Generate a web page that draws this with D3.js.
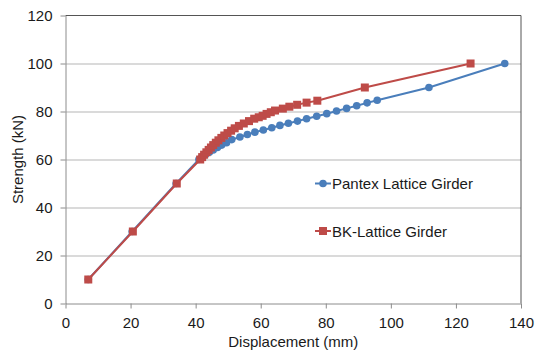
<!DOCTYPE html>
<html>
<head>
<meta charset="utf-8">
<script src="https://cdn.jsdelivr.net/npm/d3@7"></script>
<style>
  body { margin: 0; background: #fff; }
  text { font-family: "Liberation Sans", Arial, sans-serif; fill: #1a1a1a; }
</style>
</head>
<body>
<div id="chart"></div>
<script>
// Pantex Lattice Girder (displacement mm, strength kN)
const pantexX = [7, 20.5, 34, 41, 42, 43, 44.2, 45.4, 46.7, 48, 49.5, 51.1, 53.6, 55.9, 58.2, 60.8, 63.4, 65.9, 68.5, 71.3, 74.1, 77.2, 80.3, 83.3, 86.4, 89.5, 92.7, 95.8, 111.7, 135];
const pantexY = [10, 30, 50, 60, 61, 62, 63, 64, 65, 66, 67, 68.3, 69.4, 70.4, 71.4, 72.3, 73.2, 74.2, 75.1, 76, 77, 78, 79.1, 80.2, 81.3, 82.4, 83.6, 84.7, 90, 100];

// BK-Lattice Girder
const bkX = [7, 20.7, 34.2, 41.4, 42, 42.6, 43.3, 44, 44.7, 45.4, 46.2, 47, 47.9, 48.8, 49.8, 50.9, 52, 53.3, 54.8, 56.4, 58, 59.4, 60.6, 61.8, 63.1, 64.4, 66.8, 68.8, 71.2, 74.1, 77.4, 92, 124.5];
const bkY = [10, 30, 50, 60, 61, 62, 63, 64, 65, 66, 67, 68, 69, 70, 71, 72, 73, 74, 75, 76, 77, 77.6, 78.2, 79, 79.7, 80.4, 81.2, 82, 82.8, 83.7, 84.5, 90, 100];

const xTicks = [0, 20, 40, 60, 80, 100, 120, 140];
const yTicks = [0, 20, 40, 60, 80, 100, 120];

const W = 536, H = 353;
const margin = { top: 15.5, right: 15, bottom: 49.5, left: 65.5 };
const width = W - margin.left - margin.right;
const height = H - margin.top - margin.bottom;

const blue = "#4a7ebb", red = "#be4b48";

const svg = d3.select("#chart").append("svg")
  .attr("width", W).attr("height", H);
const g = svg.append("g")
  .attr("transform", "translate(" + margin.left + "," + margin.top + ")");

const x = d3.scaleLinear().domain([0, 140]).range([0, width]);
const y = d3.scaleLinear().domain([0, 120]).range([height, 0]);

// gridlines
g.append("g").selectAll("line")
  .data(yTicks.filter(d => d > 0 && d < 120))
  .join("line")
  .attr("x1", 0).attr("x2", width)
  .attr("y1", d => Math.round(y(d)) + 0.5).attr("y2", d => Math.round(y(d)) + 0.5)
  .attr("stroke", "#b5b5b5").attr("stroke-width", 1);

// plot border top/right
g.append("path")
  .attr("d", "M0," + Math.round(y(120)) + "H" + width + "V" + height)
  .attr("fill", "none").attr("stroke", "#555").attr("stroke-width", 1);

// axes
const xAxis = g.append("g")
  .attr("transform", "translate(0," + height + ")")
  .call(d3.axisBottom(x).tickValues(xTicks).tickSize(5).tickPadding(9).tickSizeOuter(0));
const yAxis = g.append("g")
  .call(d3.axisLeft(y).tickValues(yTicks).tickSize(5).tickPadding(8).tickSizeOuter(0));

[xAxis, yAxis].forEach(a => {
  a.select(".domain").attr("stroke", "#8c8c8c");
  a.selectAll(".tick line").attr("stroke", "#8c8c8c");
  a.selectAll(".tick text").attr("font-size", 15).attr("fill", "#1a1a1a")
    .style("font-family", "'Liberation Sans', Arial, sans-serif");
});

g.append("text")
  .attr("x", width / 2).attr("y", height + 43.5)
  .attr("text-anchor", "middle").attr("font-size", 15)
  .text("Displacement (mm)");

svg.append("text")
  .attr("transform", "translate(23," + (margin.top + height / 2) + ") rotate(-90)")
  .attr("text-anchor", "middle").attr("font-size", 15)
  .text("Strength (kN)");

const line = d3.line().x(d => x(d[0])).y(d => y(d[1]));

const pantex = d3.zip(pantexX, pantexY);
const bk = d3.zip(bkX, bkY);

g.append("path").datum(pantex)
  .attr("d", line).attr("fill", "none")
  .attr("stroke", blue).attr("stroke-width", 2);
g.selectAll(".pt").data(pantex).join("circle")
  .attr("class", "pt")
  .attr("cx", d => x(d[0])).attr("cy", d => y(d[1]))
  .attr("r", 3.8).attr("fill", blue);

g.append("path").datum(bk)
  .attr("d", line).attr("fill", "none")
  .attr("stroke", red).attr("stroke-width", 2);
g.selectAll(".sq").data(bk).join("rect")
  .attr("class", "sq")
  .attr("x", d => x(d[0]) - 4).attr("y", d => y(d[1]) - 4)
  .attr("width", 8).attr("height", 8).attr("fill", red);

// legend
const legend = [
  { name: "Pantex Lattice Girder", color: blue, shape: "circle", y: 183.5 },
  { name: "BK-Lattice Girder", color: red, shape: "square", y: 231 }
];
legend.forEach(l => {
  svg.append("line")
    .attr("x1", 315).attr("x2", 331).attr("y1", l.y).attr("y2", l.y)
    .attr("stroke", l.color).attr("stroke-width", 2);
  if (l.shape === "circle") {
    svg.append("circle").attr("cx", 323).attr("cy", l.y).attr("r", 3.8).attr("fill", l.color);
  } else {
    svg.append("rect").attr("x", 319).attr("y", l.y - 4).attr("width", 8).attr("height", 8).attr("fill", l.color);
  }
  svg.append("text")
    .attr("x", 332).attr("y", l.y + 5.5)
    .attr("font-size", 15)
    .text(l.name);
});
</script>
</body>
</html>
